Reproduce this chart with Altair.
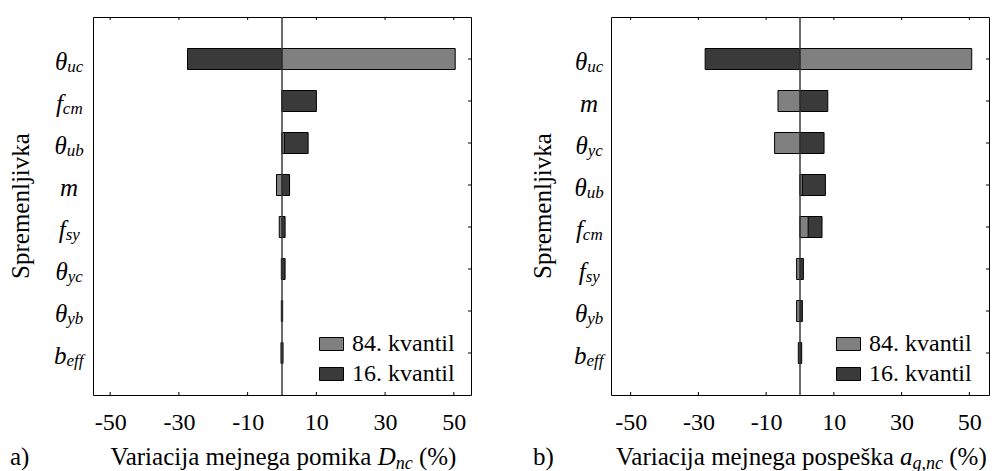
import altair as alt
import pandas as pd

# ---------------- data ----------------
series = ["84. kvantil", "16. kvantil"]
colors = ["#808080", "#3a3a3a"]
x_ticks = [-50, -30, -10, 10, 30, 50]

# panel a) Variacija mejnega pomika D_nc (%)
main_a = ["θ", "f", "θ", "m", "f", "θ", "θ", "b"]
sub_a = ["uc", "cm", "ub", "", "sy", "yc", "yb", "eff"]
q84_a = [50.4, 0.0, 0.7, -1.6, -0.8, -0.2, -0.2, -0.3]
q16_a = [-27.5, 10.0, 7.6, 2.2, 0.9, 0.9, 0.2, 0.3]

# panel b) Variacija mejnega pospeška a_g,nc (%)
main_b = ["θ", "m", "θ", "θ", "f", "f", "θ", "b"]
sub_b = ["uc", "", "yc", "ub", "cm", "sy", "yb", "eff"]
q84_b = [50.7, -6.5, -7.5, 0.7, 2.4, -1.0, -1.0, -0.5]
q16_b = [-28.0, 8.2, 7.1, 7.5, 6.5, 1.0, 0.7, 0.5]

# ---------------- styling / layout helpers ----------------
FONT = "Liberation Serif"
W = 378
H = 378
FS_T = 25        # axis titles
FS_TICK = 24     # tick labels
FS_LEG = 24      # legend labels
FS_MAIN = 25     # italic symbol size
FS_SUB = 17      # subscript size

REG = {'V': 722, 'a': 444, 'r': 333, 'i': 278, 'c': 444, 'j': 278, ' ': 250,
       'm': 778, 'e': 444, 'n': 500, 'g': 500, 'p': 500, 'o': 500, 'k': 500,
       's': 389, 'š': 389, '(': 333, '%': 833, ')': 333}
ITA = {'θ': 500, 'f': 300, 'm': 722, 'b': 500, 'u': 500, 'c': 444, 'y': 444,
       's': 389, 'e': 444, 'D': 722, 'a': 500, 'g': 500, ',': 250, 'n': 500}


def tw(s, table, size):
    return sum(table.get(ch, 500) for ch in s) * size / 1000.0


def panel(main, sub, q84, q16, xmax, reg1, it1, sub1, letter, lab_center, ytitle_x, letter_x, legend_x):
    n = len(main)
    rows = []
    for name, vals in (("16. kvantil", q16), ("84. kvantil", q84)):
        for i, v in enumerate(vals):
            rows.append({"serie": name, "v": v, "zero": 0.0,
                         "lo": i + 1 - 0.25, "hi": i + 1 + 0.25})
    bars_df = pd.DataFrame(rows)

    xs = alt.Scale(domain=[-xmax, xmax], nice=False, zero=False)
    ys = alt.Scale(domain=[0, n + 1], reverse=True, nice=False, zero=False)

    bars = alt.Chart(bars_df).mark_rect(stroke="black", strokeWidth=1).encode(
        x=alt.X("v:Q", scale=xs, axis=alt.Axis(values=x_ticks, ticks=False, domain=False,
                                                 grid=False, title=None, labelFont=FONT,
                                                 labelFontSize=FS_TICK, labelColor="black",
                                                 labelPadding=15, labelFlush=False,
                                                 labelExpr="datum.value < 0 ? '-' + abs(datum.value) : '' + datum.value")),
        x2="zero:Q",
        y=alt.Y("lo:Q", scale=ys, axis=None),
        y2="hi:Q",
        color=alt.Color("serie:N", scale=alt.Scale(domain=series, range=colors),
                        legend=alt.Legend(title=None, orient="none", legendX=legend_x, legendY=314.5,
                                          symbolType="M-1,-0.54L1,-0.54L1,0.54L-1,0.54Z",
                                          symbolSize=576, symbolStrokeColor="black",
                                          symbolStrokeWidth=1, symbolOpacity=1,
                                          labelFont=FONT, labelFontSize=FS_LEG, labelColor="black",
                                          rowPadding=5, labelOffset=8, padding=0)),
    )

    zero = alt.Chart(pd.DataFrame({"z": [0.0]})).mark_rule(color="#3a3a3a", strokeWidth=1.5).encode(
        x=alt.X("z:Q", scale=xs))

    ticks_df = pd.DataFrame({"t": x_ticks})
    top_t = alt.Chart(ticks_df).mark_rule(color="black", strokeWidth=1).encode(
        x=alt.X("t:Q", scale=xs), y=alt.value(0), y2=alt.value(3))
    bot_t = alt.Chart(ticks_df).mark_rule(color="black", strokeWidth=1).encode(
        x=alt.X("t:Q", scale=xs), y=alt.value(H), y2=alt.value(H - 3))

    lab_rows = []
    for i, (m, s) in enumerate(zip(main, sub)):
        wm = tw(m, ITA, FS_MAIN)
        ws = tw(s, ITA, FS_SUB)
        left = lab_center - (wm + ws) / 2.0
        lab_rows.append({"idx": i + 1, "main": m, "sub": s, "xj": left + wm})
    lab_df = pd.DataFrame(lab_rows)

    y_t = alt.Chart(lab_df).mark_rule(color="black", strokeWidth=1).encode(
        y=alt.Y("idx:Q", scale=ys), x=alt.value(W), x2=alt.value(W - 3))

    lab_main = alt.Chart(lab_df).mark_text(font=FONT, fontStyle="italic", fontSize=FS_MAIN,
                                           align="right", baseline="alphabetic", dy=10.5,
                                           color="black").encode(
        x=alt.X("xj:Q", scale=None), y=alt.Y("idx:Q", scale=ys), text="main:N")
    lab_sub = alt.Chart(lab_df).mark_text(font=FONT, fontStyle="italic", fontSize=FS_SUB,
                                          align="left", baseline="alphabetic", dy=13,
                                          color="black").encode(
        x=alt.X("xj:Q", scale=None), y=alt.Y("idx:Q", scale=ys), text="sub:N")

    # x title assembled from segments
    sp = tw(" ", REG, FS_T)
    w1 = tw(reg1, REG, FS_T)
    wi = tw(it1, ITA, FS_T)
    wsb = tw(sub1, ITA, FS_SUB + 1)
    w2 = tw("(%)", REG, FS_T)
    total = w1 + sp + wi + wsb + sp + w2
    x0 = W / 2.0 - total / 2.0
    xj = x0 + w1 + sp
    ty = H + 70
    one = pd.DataFrame({"k": [0]})
    t1 = alt.Chart(one).mark_text(font=FONT, fontSize=FS_T, align="right", baseline="alphabetic",
                                  color="black").encode(
        x=alt.value(xj - sp), y=alt.value(ty), text=alt.value(reg1))
    t2 = alt.Chart(one).mark_text(font=FONT, fontStyle="italic", fontSize=FS_T, align="left",
                                  baseline="alphabetic", color="black").encode(
        x=alt.value(xj), y=alt.value(ty), text=alt.value(it1))
    t3 = alt.Chart(one).mark_text(font=FONT, fontStyle="italic", fontSize=FS_SUB + 1, align="left",
                                  baseline="alphabetic", color="black").encode(
        x=alt.value(xj + wi), y=alt.value(ty + 4), text=alt.value(sub1))
    t4 = alt.Chart(one).mark_text(font=FONT, fontSize=FS_T, align="left", baseline="alphabetic",
                                  color="black").encode(
        x=alt.value(xj + wi + wsb + sp), y=alt.value(ty), text=alt.value("(%)"))
    t5 = alt.Chart(one).mark_text(font=FONT, fontSize=FS_T, align="left", baseline="alphabetic",
                                  color="black").encode(
        x=alt.value(letter_x), y=alt.value(ty), text=alt.value(letter))
    ytl = alt.Chart(one).mark_text(font=FONT, fontSize=FS_T, align="center", baseline="middle",
                                   angle=270, color="black").encode(
        x=alt.value(ytitle_x), y=alt.value(H / 2.0), text=alt.value("Spremenljivka"))

    return alt.layer(bars, zero, top_t, bot_t, y_t, lab_main, lab_sub,
                     t1, t2, t3, t4, t5, ytl).properties(width=W, height=H)


pa = panel(main_a, sub_a, q84_a, q16_a, 55.0, "Variacija mejnega pomika", "D", "nc",
           "a)", -24, -72, -83, 226)
pb = panel(main_b, sub_b, q84_b, q16_b, 55.8, "Variacija mejnega pospeška", "a", "g,nc",
           "b)", -22, -68, -78, 225)

chart = alt.hconcat(pa, pb, spacing=140, bounds="flush").resolve_scale(
    color="independent").properties(
    padding={"left": 0, "top": 7, "right": 0, "bottom": 0}
).configure(font=FONT).configure_view(stroke="black", strokeWidth=1)

chart.save("out.html", embed_options={"renderer": "svg", "actions": False})
